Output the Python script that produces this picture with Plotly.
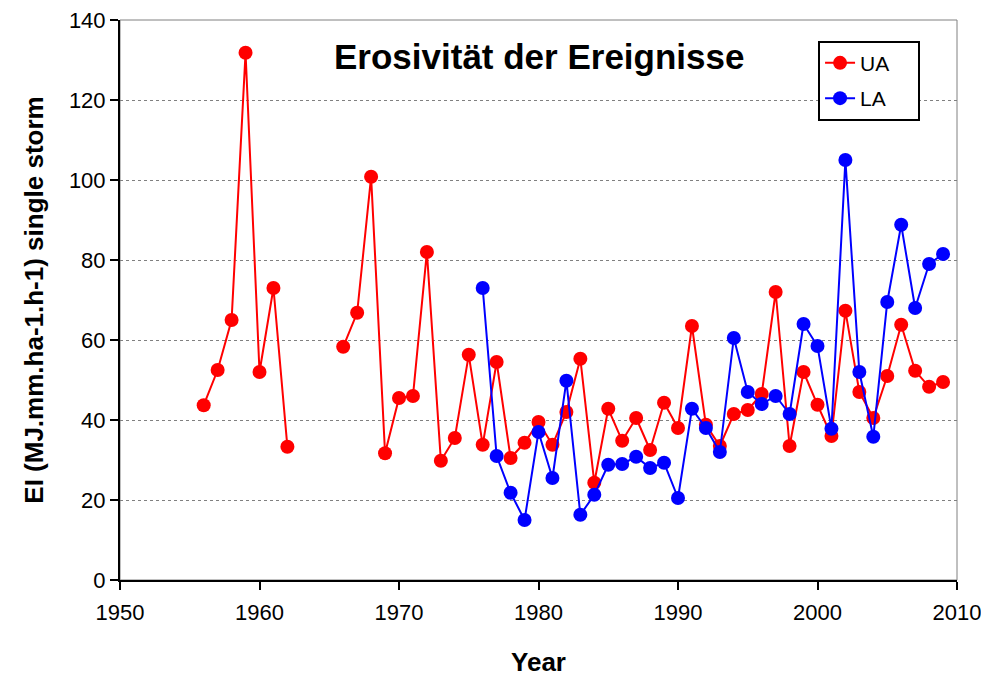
import plotly.graph_objects as go

# Years of record and single-storm erosivity (EI)
years_ua = list(range(1956, 2010))
ei_ua = [43.7, 52.5, 65.0, 131.8, 52.0, 73.0, 33.3,
         None, None, None,
         58.3, 66.8, 100.8, 31.7, 45.5, 46.0, 82.0, 29.8, 35.5, 56.3,
         33.8, 54.5, 30.5, 34.3, 39.5, 33.8, 42.0, 55.3, 24.3, 42.8,
         34.8, 40.5, 32.5, 44.3, 38.0, 63.5, 38.8, 33.5, 41.5, 42.5,
         46.5, 72.0, 33.5, 52.0, 43.8, 36.0, 67.3, 47.0, 40.5, 51.0,
         63.8, 52.3, 48.3, 49.5]

years_la = list(range(1976, 2010))
ei_la = [73.0, 31.0, 21.8, 15.0, 37.0, 25.5, 49.8, 16.3, 21.3, 28.8,
         29.0, 30.8, 28.0, 29.3, 20.5, 42.8, 38.0, 32.0, 60.5, 47.0,
         44.0, 46.0, 41.5, 64.0, 58.5, 37.8, 105.0, 52.0, 35.8, 69.5,
         88.8, 68.0, 79.0, 81.5]

FONT = "Liberation Sans, Arial, sans-serif"
PAD = "\u00a0\u00a0\u00a0\u00a0"

fig = go.Figure()

fig.add_trace(go.Scatter(
    x=years_ua, y=ei_ua, name="UA" + PAD, legendgroup="ua",
    mode="lines+markers",
    line=dict(color="#ff0000", width=2),
    marker=dict(color="#ff0000", size=14),
))
fig.add_trace(go.Scatter(
    x=years_la, y=ei_la, name="LA" + PAD, legendgroup="la",
    mode="lines+markers",
    line=dict(color="#0000ff", width=2),
    marker=dict(color="#0000ff", size=14),
))

# thin grey frame on the top/right of the plot area
fig.add_shape(type="rect", xref="paper", yref="paper", x0=0, y0=0, x1=1, y1=1,
              line=dict(color="#808080", width=1), layer="below")

fig.add_annotation(
    x=0.5, y=0.934, xref="paper", yref="paper",
    xanchor="center", yanchor="middle",
    text="<b>Erosivität der Ereignisse</b>",
    showarrow=False,
    font=dict(family=FONT, size=35, color="black"),
)

fig.update_layout(
    width=981, height=679,
    margin=dict(l=120, r=24, t=20, b=99),
    plot_bgcolor="white",
    paper_bgcolor="white",
    font=dict(family=FONT, size=22, color="black"),
    legend=dict(
        x=0.834, y=0.963, xanchor="left", yanchor="top",
        bordercolor="black", borderwidth=2,
        bgcolor="white",
        font=dict(family=FONT, size=21),
        tracegroupgap=5,
    ),
    xaxis=dict(
        range=[1950, 2010], dtick=10, tick0=1950,
        showgrid=False, zeroline=False, automargin=False,
        ticklabeloverflow="allow",
        showline=True, linecolor="black", linewidth=2,
        ticks="outside", ticklen=8, tickwidth=2, tickcolor="black",
        ticklabelstandoff=4,
        title=dict(text="<b>Year</b>", font=dict(family=FONT, size=26), standoff=28),
    ),
    yaxis=dict(
        range=[0, 140], dtick=20,
        showgrid=True, gridcolor="#808080", gridwidth=1, griddash="dot",
        zeroline=False, automargin=False,
        showline=True, linecolor="black", linewidth=2,
        ticks="outside", ticklen=8, tickwidth=2, tickcolor="black",
        title=dict(text="<b>EI (MJ.mm.ha-1.h-1) single storm</b>",
                   font=dict(family=FONT, size=26), standoff=18),
    ),
)

# drop the page's default body margin so the figure fills the window exactly
fig.write_html("out.html", config={"displayModeBar": False},
               post_script="document.body.style.margin='0';")
